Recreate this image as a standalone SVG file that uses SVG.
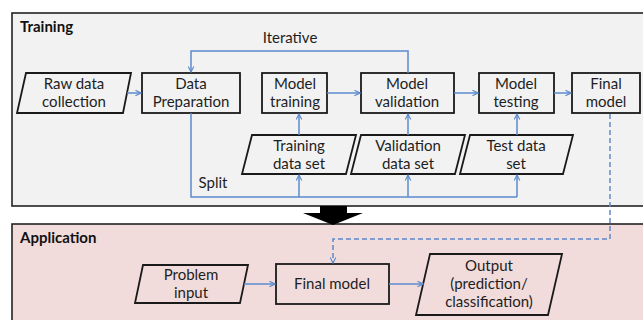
<svg xmlns="http://www.w3.org/2000/svg" width="643" height="320" viewBox="0 0 643 320">
  <defs>
    <marker id="arr" viewBox="0 0 10 10" refX="9" refY="5" markerWidth="7" markerHeight="7" orient="auto" markerUnits="userSpaceOnUse">
      <path d="M1,1 L9,5 L1,9" fill="none" stroke="#5b8bcc" stroke-width="1.6"/>
    </marker>
    <style>
      .panel { stroke: #222; stroke-width: 1.6; }
      .node { fill: none; stroke: #1a1a1a; stroke-width: 1.8; }
      .lbl { font-family: Lato, "Open Sans", "Liberation Sans", sans-serif; font-size: 15px; fill: #1e1e1e; text-anchor: middle; }
      .title { font-family: Lato, "Open Sans", "Liberation Sans", sans-serif; font-size: 15px; font-weight: bold; fill: #111; }
      .conn { fill: none; stroke: #5b8bcc; stroke-width: 1.5; }
      .dash { stroke-dasharray: 5 3; }
    </style>
  </defs>

  <rect width="643" height="320" fill="#ffffff"/>

  <!-- panels -->
  <g id="training-panel">
    <rect class="panel" x="12" y="13" width="640" height="193" fill="#f2f2f2"/>
    <text class="title" x="20" y="32">Training</text>
  </g>
  <g id="application-panel">
    <rect class="panel" x="12" y="224" width="640" height="110" fill="#f2dcdb"/>
    <text class="title" x="20" y="243">Application</text>
  </g>

  <!-- block arrow from training to application -->
  <path id="phase-arrow" d="M320,206 L347,206 L347,213 L363,213 L333,225 L303,213 L320,213 Z" fill="#000"/>

  <!-- nodes -->
  <g id="raw-data">
    <polygon class="node" points="26,73 131,73 123,113 17,113"/>
    <text class="lbl" x="74" y="89">Raw data</text>
    <text class="lbl" x="74" y="107">collection</text>
  </g>
  <g id="data-prep">
    <rect class="node" x="142" y="73" width="98" height="40"/>
    <text class="lbl" x="191" y="89">Data</text>
    <text class="lbl" x="191" y="107">Preparation</text>
  </g>
  <g id="model-training">
    <rect class="node" x="262" y="73" width="65" height="40"/>
    <text class="lbl" x="295" y="89">Model</text>
    <text class="lbl" x="295" y="107">training</text>
  </g>
  <g id="model-validation">
    <rect class="node" x="361" y="73" width="93" height="40"/>
    <text class="lbl" x="407" y="89">Model</text>
    <text class="lbl" x="407" y="107">validation</text>
  </g>
  <g id="model-testing">
    <rect class="node" x="479" y="73" width="75" height="40"/>
    <text class="lbl" x="516" y="89">Model</text>
    <text class="lbl" x="516" y="107">testing</text>
  </g>
  <g id="final-model-train">
    <rect class="node" x="572" y="73" width="68" height="40"/>
    <text class="lbl" x="606" y="89">Final</text>
    <text class="lbl" x="606" y="107">model</text>
  </g>
  <g id="training-set">
    <polygon class="node" points="252,135 356,135 346,174 242,174"/>
    <text class="lbl" x="299" y="151">Training</text>
    <text class="lbl" x="299" y="169">data set</text>
  </g>
  <g id="validation-set">
    <polygon class="node" points="361,135 465,135 455,174 351,174"/>
    <text class="lbl" x="408" y="151">Validation</text>
    <text class="lbl" x="408" y="169">data set</text>
  </g>
  <g id="test-set">
    <polygon class="node" points="470,135 573,135 563,174 460,174"/>
    <text class="lbl" x="516" y="151">Test data</text>
    <text class="lbl" x="516" y="169">set</text>
  </g>
  <g id="problem-input">
    <polygon class="node" points="143,265 248,265 240,303 135,303"/>
    <text class="lbl" x="191" y="280">Problem</text>
    <text class="lbl" x="191" y="298">input</text>
  </g>
  <g id="final-model-app">
    <rect class="node" x="276" y="264" width="113" height="40"/>
    <text class="lbl" x="332" y="289">Final model</text>
  </g>
  <g id="output">
    <polygon class="node" points="430,254 562,254 548,315 416,315"/>
    <text class="lbl" x="489" y="271">Output</text>
    <text class="lbl" x="489" y="289">(prediction/</text>
    <text class="lbl" x="489" y="307">classification)</text>
  </g>

  <!-- connectors -->
  <g id="connectors">
    <line class="conn" x1="127" y1="93" x2="141" y2="93" marker-end="url(#arr)"/>
    <line class="conn" x1="327" y1="93" x2="360" y2="93" marker-end="url(#arr)"/>
    <line class="conn" x1="454" y1="93" x2="478" y2="93" marker-end="url(#arr)"/>
    <line class="conn" x1="554" y1="93" x2="571" y2="93" marker-end="url(#arr)"/>
    <polyline class="conn" points="408,73 408,51 191,51 191,72" marker-end="url(#arr)"/>
    <polyline class="conn" points="191,113 191,197 517,197"/>
    <line class="conn" x1="299" y1="197" x2="299" y2="175" marker-end="url(#arr)"/>
    <line class="conn" x1="408" y1="197" x2="408" y2="175" marker-end="url(#arr)"/>
    <line class="conn" x1="517" y1="197" x2="517" y2="175" marker-end="url(#arr)"/>
    <line class="conn" x1="299" y1="135" x2="299" y2="114" marker-end="url(#arr)"/>
    <line class="conn" x1="408" y1="135" x2="408" y2="114" marker-end="url(#arr)"/>
    <line class="conn" x1="517" y1="135" x2="517" y2="114" marker-end="url(#arr)"/>
    <polyline class="conn dash" points="610,114 610,239 333,239 333,263" marker-end="url(#arr)"/>
    <line class="conn" x1="244" y1="284" x2="275" y2="284" marker-end="url(#arr)"/>
    <line class="conn" x1="389" y1="284" x2="423" y2="284" marker-end="url(#arr)"/>
    <text class="lbl" x="290" y="43">Iterative</text>
    <text class="lbl" x="213" y="188">Split</text>
  </g>
</svg>
